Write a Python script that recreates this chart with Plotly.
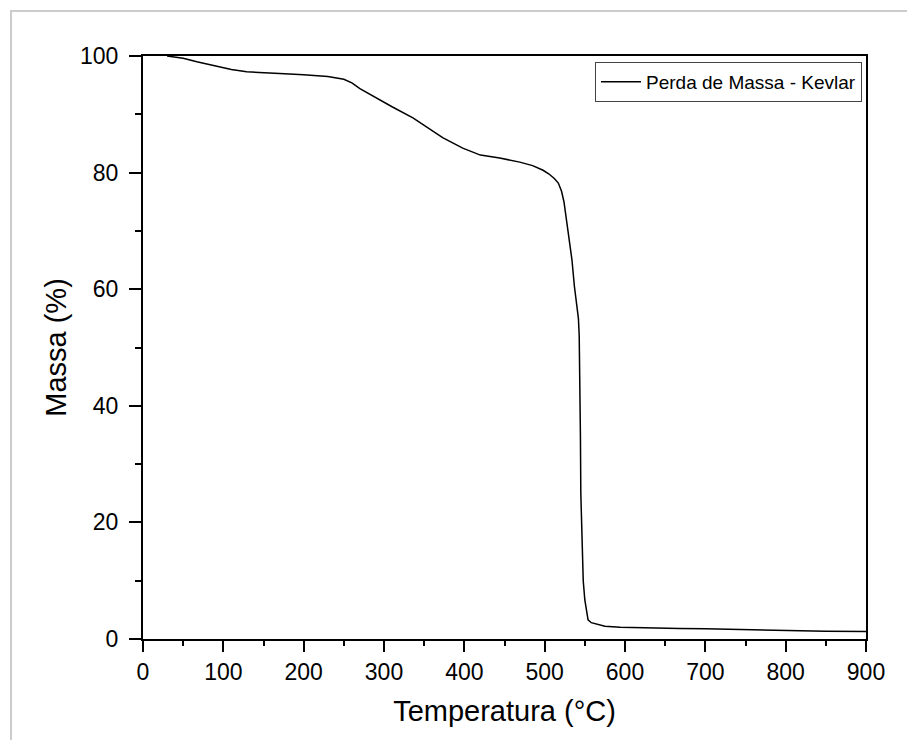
import plotly.graph_objects as go

# Data
temperatura = [30, 50, 67, 90, 110, 129, 150, 170, 200, 230, 250, 260, 270, 280, 295, 310,
               336, 373, 398, 420, 444, 469, 485, 498, 505, 512, 517, 521, 524, 527, 531,
               534, 537, 540, 542, 543, 544, 544.5, 545, 546.5, 548, 550, 552, 554, 558,
               565, 575, 594, 620, 668, 700, 750, 800, 850, 900]
massa = [100, 99.6, 99.0, 98.3, 97.7, 97.3, 97.1, 97.0, 96.8, 96.5, 96.0, 95.4, 94.4, 93.6, 92.5, 91.3,
         89.4, 86.0, 84.2, 83.0, 82.5, 81.8, 81.2, 80.4, 79.8, 79.0, 78.2, 76.8, 75.0, 71.9, 68.0,
         65.0, 60.5, 57.0, 55.0, 52.0, 45.0, 35.0, 25.0, 15.0, 10.0, 6.7, 4.5, 3.3, 2.8,
         2.5, 2.2, 2.0, 1.9, 1.8, 1.75, 1.6, 1.45, 1.35, 1.3]
serie_nome = "Perda de Massa - Kevlar"
x_titulo = "Temperatura (°C)"
y_titulo = "Massa (%)"

FONT = "Liberation Sans, Arial, sans-serif"

fig = go.Figure()
fig.add_trace(go.Scatter(x=temperatura, y=massa, mode="lines", name=serie_nome,
                         line=dict(color="black", width=1.5)))

axis_common = dict(
    showline=True, linecolor="black", linewidth=2, mirror=True,
    ticks="outside", tickcolor="black", tickwidth=2,
    showgrid=False, zeroline=False,
    tickfont=dict(family=FONT, size=23, color="black"),
)

fig.update_xaxes(range=[0, 900], tickvals=list(range(0, 901, 100)), ticklen=11,
                 minor=dict(ticks="outside", ticklen=5, tickwidth=2, tickcolor="black", dtick=50, tick0=0),
                 title=dict(text=x_titulo, font=dict(family=FONT, size=29, color="black"), standoff=17),
                 **axis_common)
fig.update_yaxes(range=[0, 100], tickvals=list(range(0, 101, 20)), ticklen=12,
                 ticklabelstandoff=6,
                 minor=dict(ticks="outside", ticklen=6, tickwidth=2, tickcolor="black", dtick=10, tick0=0),
                 title=dict(text=y_titulo, font=dict(family=FONT, size=29, color="black"), standoff=5),
                 **axis_common)

# light gray outer frame
L, R, T, B = 143, 866, 56, 639
def px_x(p):
    return (p - L) / (R - L)
def px_y(p):
    return (B - p) / (B - T)
fig.add_shape(type="rect", xref="paper", yref="paper",
              x0=px_x(11), x1=px_x(930), y0=px_y(760), y1=px_y(11),
              line=dict(color="#cccccc", width=2), fillcolor="rgba(0,0,0,0)", layer="below")

fig.update_layout(
    width=907, height=740,
    margin=dict(l=L, r=907 - R, t=T, b=740 - B),
    paper_bgcolor="white", plot_bgcolor="white",
    showlegend=True,
    legend=dict(x=px_x(862), y=px_y(62), xanchor="right", yanchor="top",
                bgcolor="white", bordercolor="#444444", borderwidth=1,
                font=dict(family=FONT, size=19, color="black"),
                itemwidth=40, tracegroupgap=0),
    font=dict(family=FONT),
)

fig.write_html("out.html")
